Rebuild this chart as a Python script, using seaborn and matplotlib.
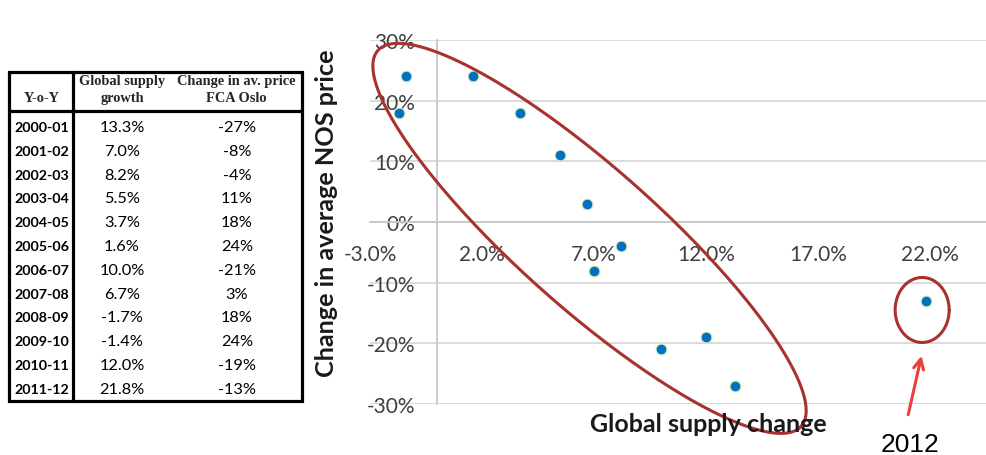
import numpy as np
import matplotlib
matplotlib.use("Agg")
import matplotlib.pyplot as plt
import seaborn as sns
import pandas as pd

# ---- data ----
periods = ["2000-01", "2001-02", "2002-03", "2003-04", "2004-05", "2005-06",
           "2006-07", "2007-08", "2008-09", "2009-10", "2010-11", "2011-12"]
supply_growth = [13.3, 7.0, 8.2, 5.5, 3.7, 1.6, 10.0, 6.7, -1.7, -1.4, 12.0, 21.8]
price_change = [-27, -8, -4, 11, 18, 24, -21, 3, 18, 24, -19, -13]
supply_labels = ["13.3%", "7.0%", "8.2%", "5.5%", "3.7%", "1.6%", "10.0%", "6.7%",
                 "-1.7%", "-1.4%", "12.0%", "21.8%"]
price_labels = ["-27%", "-8%", "-4%", "11%", "18%", "24%", "-21%", "3%", "18%",
                "24%", "-19%", "-13%"]
x_ticks = [-3, 2, 7, 12, 17, 22]
x_ticklabels = ["-3.0%", "2.0%", "7.0%", "12.0%", "17.0%", "22.0%"]
y_ticks = [-30, -20, -10, 0, 10, 20, 30]
y_ticklabels = ["-30%", "-20%", "-10%", "0%", "10%", "20%", "30%"]

df = pd.DataFrame({"growth": supply_growth, "price": price_change})

sns.set_style("white")
plt.rcParams['font.family'] = ['Lato', 'DejaVu Sans']

W, H = 986, 456
fig = plt.figure(figsize=(W / 100, H / 100), dpi=100)
fig.patch.set_facecolor("white")

# ---- table (pixel coordinate overlay) ----
tax = fig.add_axes([0, 0, 1, 1], zorder=0)
tax.set_xlim(0, W)
tax.set_ylim(H, 0)
tax.axis("off")

L, R, T, B = 9, 302, 73, 402
hdr = 112
colsep = 73
lw = 2.3
tax.plot([L, R, R, L, L], [T, T, B, B, T], color="black", lw=lw, solid_joinstyle="miter")
tax.plot([L, R], [hdr, hdr], color="black", lw=lw)
tax.plot([colsep, colsep], [T, B], color="black", lw=lw)

serif = ['Liberation Serif', 'DejaVu Serif']
hfs = 10.4
tax.text(42, 99, "Y-o-Y", ha="center", va="center", family=serif, fontweight="bold", fontsize=hfs)
tax.text(122, 81, "Global supply", ha="center", va="center", family=serif, fontweight="bold", fontsize=hfs)
tax.text(122, 99, "growth", ha="center", va="center", family=serif, fontweight="bold", fontsize=hfs)
tax.text(236, 81, "Change in av. price", ha="center", va="center", family=serif, fontweight="bold", fontsize=hfs)
tax.text(236, 99, "FCA Oslo", ha="center", va="center", family=serif, fontweight="bold", fontsize=hfs)

row0, dy = 128, 23.8
for i, (p, s, c) in enumerate(zip(periods, supply_labels, price_labels)):
    yy = row0 + i * dy
    tax.text(14, yy, p, ha="left", va="center", fontweight="bold", fontsize=10.3, color="black")
    tax.text(122, yy, s, ha="center", va="center", fontsize=11.8, color="black")
    tax.text(237, yy, c, ha="center", va="center", fontsize=11.8, color="black")

# ---- scatter chart ----
ax = fig.add_axes([370 / W, 51 / H, 616 / W, 364 / H], zorder=1)
ax.set_facecolor("none")
xmin, xmax, ymin, ymax = -3, 24.5, -30, 30
ax.set_xlim(xmin, xmax)
ax.set_ylim(ymin, ymax)

sns.scatterplot(data=df, x="growth", y="price", ax=ax, s=60, color="#0070C0",
                edgecolor="#d4e8b8", linewidth=0.8, zorder=5, clip_on=False)

grid_c = "#d9d9d9"
ax.yaxis.grid(True, color=grid_c, lw=1.3)
ax.xaxis.grid(False)
for side in ["top", "right"]:
    ax.spines[side].set_visible(False)
ax.spines["left"].set_position(("data", 0))
ax.spines["bottom"].set_position(("data", 0))
for side in ["left", "bottom"]:
    ax.spines[side].set_color("#c8c8c8")
    ax.spines[side].set_linewidth(1.3)

ax.set_xticks(x_ticks)
ax.set_xticklabels(x_ticklabels)
ax.set_yticks(y_ticks)
ax.set_yticklabels(y_ticklabels)
ax.tick_params(axis="x", direction="inout", length=11, width=1.2, color="#c8c8c8",
               pad=10, labelsize=15, labelcolor="#404040")
ax.tick_params(axis="y", length=0, pad=16, labelsize=15, labelcolor="#404040")
ax.set_xlabel("")
ax.set_ylabel("")

fig.text(326 / W, 1 - 213 / H, "Change in average NOS price", rotation=90,
         ha="center", va="center", fontweight="bold", fontsize=18.2, color="#1a1a1a")
fig.text(708 / W, 1 - 425 / H, "Global supply change", ha="center", va="center",
         fontweight="bold", fontsize=18, color="#1a1a1a")

# ---- ellipses drawn in pixel space around data-space centres ----
px_x = 616 / (xmax - xmin)
px_y = 364 / (ymax - ymin)


def ellipse(cx, cy, a, b, ang_deg, color, lw):
    t = np.linspace(0, 2 * np.pi, 300)
    th = np.deg2rad(ang_deg)
    ex = a * np.cos(t) * np.cos(th) - b * np.sin(t) * np.sin(th)
    ey = a * np.cos(t) * np.sin(th) + b * np.sin(t) * np.cos(th)
    ax.plot(cx + ex / px_x, cy + ey / px_y, color=color, lw=lw, clip_on=False, zorder=6)


ell_c = "#a8322d"
ellipse(6.8, -2.7, 283, 70, -41.6, ell_c, 2.2)
ellipse(21.65, -14.5, 27, 32.5, 0, ell_c, 2.2)

# ---- arrow + 2012 label ----
ax.annotate("", xy=(21.65, -21.6), xytext=(21.0, -32.2), xycoords="data",
            arrowprops=dict(arrowstyle="->", color="#e8403a", lw=2.2,
                            mutation_scale=18), annotation_clip=False)
ax.text(21.1, -36.6, "2012", ha="center", va="center", fontsize=19,
        family=['Liberation Sans', 'DejaVu Sans'], color="black", clip_on=False)

fig.savefig("out.png", dpi=100)
